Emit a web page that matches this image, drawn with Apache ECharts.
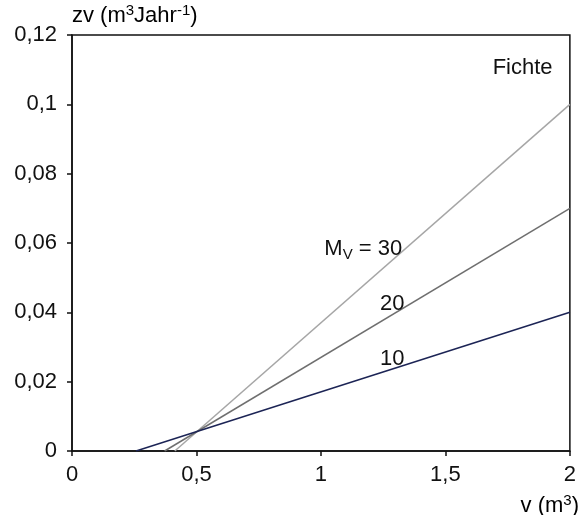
<!DOCTYPE html>
<html><head><meta charset="utf-8">
<script src="https://cdn.jsdelivr.net/npm/echarts@6/dist/echarts.min.js"></script>
<style>html,body{margin:0;padding:0;background:#fff}#c{width:579px;height:515px}</style>
</head><body><div id="c"></div>
<script>
// Data
const seriesNames = ['Mv = 30', 'Mv = 20', 'Mv = 10'];
const lineX = [[0.413, 2], [0.372, 2], [0.257, 2]];
const lineY = [[0, 0.1], [0, 0.07], [0, 0.04]];
const lineColors = ['#a6a6a6', '#6f6f6f', '#1c2455'];
const xTicks = [0, 0.5, 1, 1.5, 2];
const yTicks = [0, 0.02, 0.04, 0.06, 0.08, 0.1, 0.12];
const annoText = ['{t|M}{s|V}{t| = 30}', '{t|20}', '{t|10}', '{t|Fichte}'];
const annoX = [1.17, 1.286, 1.286, 1.81];
const annoY = [0.0582, 0.0424, 0.0265, 0.1105];
const yTitle = '{t|zv (m}{p|3}{t|Jahr}{p|-1}{t|)}';
const xTitle = '{t|v (m}{p|3}{t|)}';

const FONT = 'Liberation Sans, Arial, sans-serif';
const FS = 22;
const fmt = v => String(v).replace('.', ',');
const rich = {
  t: {fontFamily: FONT, fontSize: FS, color: '#111', lineHeight: 26},
  s: {fontFamily: FONT, fontSize: 15, color: '#111', lineHeight: 17, verticalAlign: 'bottom'},
  p: {fontFamily: FONT, fontSize: 15, color: '#111', lineHeight: 18, verticalAlign: 'top'}
};

const chart = echarts.init(document.getElementById('c'), null, {renderer: 'canvas'});
const series = seriesNames.map((n, i) => ({
  name: n, type: 'line', symbol: 'none', silent: true,
  data: lineX[i].map((x, j) => [x, lineY[i][j]]),
  lineStyle: {color: lineColors[i], width: 1.5},
  z: 3
}));
series.push({
  type: 'scatter', symbolSize: 0, silent: true,
  itemStyle: {opacity: 1},
  data: annoX.map((x, i) => [x, annoY[i]]),
  label: {
    show: true, position: 'inside',
    formatter: p => annoText[p.dataIndex],
    rich: rich
  },
  z: 4
});

chart.setOption({
  animation: false,
  backgroundColor: '#fff',
  grid: {left: 72, right: 2, top: 35, bottom: 64, show: true, borderColor: '#111', borderWidth: 1.5},
  xAxis: {
    type: 'value', min: xTicks[0], max: xTicks[xTicks.length - 1], interval: 0.5,
    axisLine: {onZero: false, lineStyle: {color: '#111', width: 1.5}},
    axisTick: {show: true, length: 5, lineStyle: {color: '#111', width: 1.5}},
    splitLine: {show: false},
    axisLabel: {formatter: fmt, fontFamily: FONT, fontSize: FS, color: '#111', margin: 13}
  },
  yAxis: {
    type: 'value', min: yTicks[0], max: yTicks[yTicks.length - 1], interval: 0.02,
    axisLine: {onZero: false, lineStyle: {color: '#111', width: 1.5}},
    axisTick: {show: true, length: 5, lineStyle: {color: '#111', width: 1.5}},
    splitLine: {show: false},
    axisLabel: {formatter: fmt, fontFamily: FONT, fontSize: FS, color: '#111', margin: 15}
  },
  graphic: [
    {type: 'text', left: 72, top: 3, style: {text: yTitle, rich: rich}},
    {type: 'text', right: 0, bottom: -2, style: {text: xTitle, rich: rich}}
  ],
  series: series
});
</script></body></html>
